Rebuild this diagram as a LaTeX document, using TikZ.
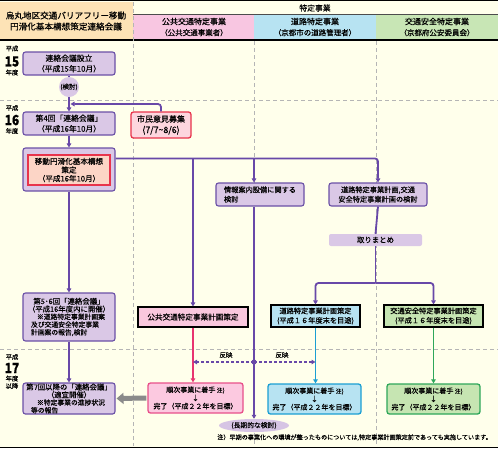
\documentclass[tikz,border=0pt]{standalone}
\usepackage{fontspec}
\setmainfont{Noto Sans CJK JP}[FakeBold=0.35]
\usetikzlibrary{arrows.meta,shapes.geometric}
\definecolor{bg}{HTML}{FFFFEB}
\definecolor{horange}{HTML}{FDE3B6}
\definecolor{hpink}{HTML}{F8C6E1}
\definecolor{hblue}{HTML}{B7E3F2}
\definecolor{hgreen}{HTML}{C8E6B5}
\definecolor{cPurp}{HTML}{6848A8}
\definecolor{cPurpFill}{HTML}{DAC8E6}
\definecolor{cPurpBorder}{HTML}{6A50A6}
\definecolor{cRed}{HTML}{E8344C}
\definecolor{cSalmon}{HTML}{FCD5C6}
\definecolor{cShimin}{HTML}{FDD6DE}
\definecolor{cPinkPlan}{HTML}{F9C7DD}
\definecolor{cPinkLine}{HTML}{E83470}
\definecolor{cJunPink}{HTML}{FCC9E0}
\definecolor{cJunPinkB}{HTML}{E8508A}
\definecolor{cBluePlan}{HTML}{B7E3F2}
\definecolor{cBlueLine}{HTML}{1B9FD3}
\definecolor{cGreenPlan}{HTML}{C6E5B2}
\definecolor{cGreenLine}{HTML}{2FA75A}
\definecolor{cGrid}{HTML}{B5B5B5}
\definecolor{cGrayArrow}{HTML}{8A8A8A}
\definecolor{cEll}{HTML}{D6C4E4}
\newcommand{\fs}[2]{\fontsize{#1}{#2}\selectfont}
\begin{document}
\begin{tikzpicture}[x=1pt,y=-1pt,
  pbox/.style={draw=cPurpBorder, fill=cPurpFill, line width=1.1pt, rounded corners=2.5pt, align=center, inner sep=0pt, font=\fs{7.8}{10.5}},
  plainbox/.style={draw=black, line width=1.1pt, align=center, inner sep=0pt, font=\fs{7.2}{9.5}},
  junbox/.style={line width=1.3pt, rounded corners=2.5pt, align=center, inner sep=0pt, minimum width=93, minimum height=30, font=\fs{7}{8.2}},
  conn/.style={draw=cPurp, line width=1.8pt, rounded corners=3pt},
  parrow/.style={conn, -{Triangle[length=4pt,width=4.5pt]}},
  dasharrow/.style={draw=cPurp, line width=1.8pt, dash pattern=on 3pt off 2pt, -{Triangle[length=4pt,width=4.5pt]}},
  grid/.style={draw=cGrid, line width=0.6pt, dash pattern=on 4pt off 3pt},
  yr/.style={font=\fs{6.3}{7}, inner sep=0pt},
  yrnum/.style={font=\fs{14}{14}\bfseries, inner sep=0pt},
  hdr/.style={align=center, inner sep=0pt, font=\fs{8}{11}},
  lbl/.style={inner sep=0pt, font=\fs{6.5}{7}}
]
\useasboundingbox (0,0) rectangle (498,448);
\fill[bg] (0,0) rectangle (498,448);
% header cells
\fill[horange] (0,2) rectangle (133,39.5);
\fill[hpink] (133,15) rectangle (254,39.5);
\fill[hblue] (254,15) rectangle (376,39.5);
\fill[hgreen] (376,15) rectangle (498,39.5);
\draw[black, line width=1pt] (0,0.5) -- (498,0.5);
\draw[black!70, line width=0.6pt] (133,14.5) -- (498,14.5);
\draw[black, line width=1.5pt] (0,40) -- (498,40);
\draw[black, line width=1pt] (0,447) -- (498,447);
% grid
\draw[grid] (133,2) -- (133,446);
\draw[grid] (254,41) -- (254,446);
\draw[grid] (376,41) -- (376,446);
\draw[grid] (0,100) -- (498,100);
\draw[grid] (0,349) -- (498,349);
% header texts
\node[hdr, font=\fs{8.6}{11}] (hleft) at (66,21) {烏丸地区交通バリアフリー移動\\円滑化基本構想策定連絡会議};
\node[hdr, font=\fs{7.8}{9}] (htoku) at (315,8) {特定事業};
\node[hdr] (hpk) at (194,27) {公共交通特定事業\\{\fs{7.5}{9}（公共交通事業者）}};
\node[hdr] (hbl) at (315,27) {道路特定事業\\{\fs{7.5}{9}（京都市の道路管理者）}};
\node[hdr] (hgr) at (437,27) {交通安全特定事業\\{\fs{7.5}{9}（京都府公安委員会）}};
% year labels
\node[yr] (y15a) at (12,48.5) {平成};
\node[yrnum] (y15b) at (12,61.5) {\scalebox{0.85}[1]{15}};
\node[yr] (y15c) at (12,72.5) {年度};
\node[yr] (y16a) at (12,108) {平成};
\node[yrnum] (y16b) at (12,120) {\scalebox{0.85}[1]{16}};
\node[yr] (y16c) at (12,131) {年度};
\node[yr] (y17a) at (12,357) {平成};
\node[yrnum] (y17b) at (12,368) {\scalebox{0.85}[1]{17}};
\node[yr] (y17c) at (12,378.5) {年度};
\node[yr] (y17d) at (12,386) {以降};
% left column nodes
\node[pbox, minimum width=92, minimum height=23] (n15) at (69,63.5) {連絡会議設立\\（平成15年10月）};
\node[circle, fill=cPurpFill, minimum size=20, inner sep=0pt, font=\fs{6.5}{7}] (kento) at (69,87) {(検討)};
\node[pbox, minimum width=92, minimum height=23] (n4) at (69,123.5) {第4回「連絡会議」\\（平成16年10月）};
\node[draw=cRed, fill=cShimin, line width=1.3pt, rounded corners=2.5pt, align=center, inner sep=0pt, minimum width=60, minimum height=26, font=\fs{8}{11}] (shimin) at (161,125) {市民意見募集\\{\fs{8.8}{11}(7/7\textasciitilde8/6)}};
\node[pbox, minimum width=92, minimum height=43] (kihon) at (69,169.5) {};
\node[draw=cRed, fill=cSalmon, line width=1.3pt, align=center, inner sep=0pt, minimum width=82, minimum height=30, font=\fs{7.6}{8.6}] (kihonin) at (69,170) {移動円滑化基本構想\\策定\\（平成16年10月）};
\node[pbox, minimum width=92, minimum height=48, font=\fs{7.4}{7.8}] (n56) at (69,317) {第5･6回「連絡会議」\\（平成16年度内に開催）\\\parbox{76pt}{\raggedright\fs{6.8}{7.8}\hspace*{6pt}※道路特定事業計画案\\及び交通安全特定事業\\計画案の報告,検討}};
\node[pbox, minimum width=92, minimum height=31, font=\fs{7.4}{7.8}] (n7) at (69,398.5) {第7回以降の「連絡会議」\\（適宜開催）\\\parbox{76pt}{\raggedright\fs{6.8}{7.8}\hspace*{6pt}※特定事業の進捗状況\\等の報告}};
% middle / right nodes
\node[pbox, minimum width=88, minimum height=23, align=left, font=\fs{7.2}{9.5}] (joho) at (260,194.5) {情報案内設備に関する\\検討};
\node[pbox, minimum width=98, minimum height=23, font=\fs{7.2}{9.5}] (dorokento) at (378,194.5) {道路特定事業計画,交通\\安全特定事業計画の検討};
\node[fill=cPurpFill, rounded corners=2pt, inner sep=0pt, minimum width=93, minimum height=12, font=\fs{7.4}{8}] (tori) at (375.5,240) {取りまとめ};
\node[plainbox, fill=cPinkPlan, minimum width=110, minimum height=20, font=\fs{7.6}{9}] (kokyo) at (193,317) {公共交通特定事業計画策定};
\node[plainbox, fill=cBluePlan, minimum width=89, minimum height=22] (doroplan) at (315.5,316) {道路特定事業計画策定\\(平成１６年度末を目途)};
\node[plainbox, fill=cGreenPlan, minimum width=99, minimum height=22] (anzenplan) at (433.5,316) {交通安全特定事業計画策定\\(平成１６年度末を目途)};
\node[junbox, draw=cJunPinkB, fill=cJunPink, minimum width=95] (junk) at (195.5,398) {順次事業に着手 {\fs{5.8}{6}注)}\\↓\\完了（平成２２年を目標）};
\node[junbox, draw=cBlueLine, fill=cBluePlan] (jund) at (314.5,399) {順次事業に着手 {\fs{5.8}{6}注)}\\↓\\完了（平成２２年を目標）};
\node[junbox, draw=cGreenLine, fill=cGreenPlan] (juna) at (433.5,399) {順次事業に着手 {\fs{5.8}{6}注)}\\↓\\完了（平成２２年を目標）};
\node[ellipse, fill=cEll, inner sep=0pt, minimum width=70, minimum height=13, font=\fs{6.8}{7}] (choki) at (254,425.5) {(長期的な検討)};
\node[anchor=east, inner sep=0pt, font=\fs{6.1}{7}] (note) at (492,437.5) {注）早期の事業化への環境が整ったものについては,特定事業計画策定前であっても実施しています。};
% connectors left column
\draw[conn] (n15.south) -- (kento.north);
\draw[parrow] (kento.south) -- (n4.north);
\coordinate (j1) at (70.5,104);
\draw[parrow] (shimin.north) |- (j1);
\draw[parrow] (n4.south) -- (kihon.north);
\draw[parrow] (kihon.south) -- (n56.north);
\draw[parrow] (n56.south) -- (n7.north);
% main horizontal
\coordinate (k1) at ([yshift=-11pt]kihon.north east);
\draw[parrow] (k1) -| (dorokento.north);
\draw[parrow] (kokyo.north |- k1) -- (kokyo.north);
\coordinate (jtop) at ([xshift=-6pt]joho.north);
\coordinate (jbot) at ([xshift=-6pt]joho.south);
\draw[parrow] (jtop |- k1) -- (jtop);
\draw[parrow] (jbot) -- (choki.north);
% right branch
\draw[conn] (dorokento.south) -- (tori.north);
\coordinate (split) at (375.5,283);
\draw[conn] (tori.south) -- (split);
\draw[parrow] (split) -| (doroplan.north);
\draw[parrow] (split) -| (anzenplan.north);
% colored verticals
\draw[draw=cPinkLine, line width=1.8pt, -{Triangle[length=4pt,width=4.5pt]}] (kokyo.south) -- (kokyo.south |- junk.north);
\draw[draw=cBlueLine, line width=1.8pt, -{Triangle[length=4pt,width=4.5pt]}] (doroplan.south) -- (doroplan.south |- jund.north);
\draw[draw=cGreenLine, line width=1.8pt, -{Triangle[length=4pt,width=4.5pt]}] (anzenplan.south) -- (anzenplan.south |- juna.north);
% hanei
\coordinate (rdot) at (254,362);
\draw[dasharrow] (rdot) -- (kokyo.south |- rdot);
\draw[dasharrow] (rdot) -- (doroplan.south |- rdot);
\fill[cPurp] (rdot) circle (2.6pt);
\node[lbl] (hanei1) at (226,355) {反映};
\node[lbl] (hanei2) at (282,355) {反映};
% gray arrow
\draw[draw=cGrayArrow, line width=5pt, -{Triangle[length=7pt,width=11pt]}, shorten >=1pt, shorten <=1pt] (junk.west) -- (n7.east);
\end{tikzpicture}
\end{document}
